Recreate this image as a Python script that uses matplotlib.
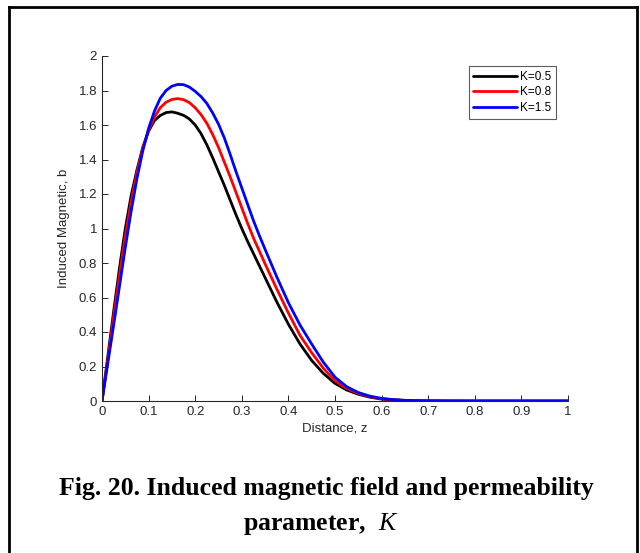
import matplotlib
matplotlib.use("Agg")
import matplotlib.pyplot as plt
from matplotlib.lines import Line2D

plt.rcParams["mathtext.fontset"] = "custom"
plt.rcParams["mathtext.it"] = "Liberation Serif:italic"
plt.rcParams["mathtext.rm"] = "Liberation Serif"

# ---- data ----
z = [0, 0.0125, 0.025, 0.0375, 0.05, 0.0625, 0.075, 0.0875, 0.1, 0.1125,
     0.125, 0.1375, 0.15, 0.1625, 0.175, 0.1875, 0.2, 0.2125, 0.225, 0.2375,
     0.25, 0.2625, 0.275, 0.2875, 0.3, 0.3125, 0.325, 0.3375, 0.35,
     0.375, 0.4, 0.425, 0.45, 0.475, 0.5, 0.525, 0.55, 0.575, 0.6, 0.625,
     0.65, 0.675, 0.7, 0.75, 0.8, 0.9, 1.0]
b_k05 = [0, 0.26, 0.52, 0.77, 1.0, 1.19, 1.34, 1.47, 1.565, 1.625,
         1.655, 1.672, 1.676, 1.668, 1.656, 1.635, 1.60, 1.55, 1.485, 1.41,
         1.33, 1.25, 1.165, 1.08, 1.00, 0.925, 0.855, 0.785, 0.715,
         0.575, 0.445, 0.33, 0.235, 0.16, 0.102, 0.064, 0.039, 0.022, 0.011, 0.006,
         0.003, 0.0015, 0.0007, 0.0001, 0, 0, 0]
b_k08 = [0, 0.24, 0.49, 0.73, 0.955, 1.155, 1.325, 1.465, 1.57, 1.645,
         1.70, 1.732, 1.748, 1.753, 1.747, 1.73, 1.70, 1.66, 1.61, 1.545,
         1.47, 1.385, 1.30, 1.21, 1.12, 1.03, 0.945, 0.87, 0.795,
         0.65, 0.51, 0.38, 0.28, 0.19, 0.117, 0.073, 0.044, 0.025, 0.013, 0.007,
         0.0035, 0.0017, 0.0008, 0.0001, 0, 0, 0]
b_k15 = [0, 0.22, 0.44, 0.665, 0.89, 1.10, 1.29, 1.45, 1.58, 1.68,
         1.755, 1.80, 1.825, 1.835, 1.834, 1.82, 1.795, 1.765, 1.725, 1.67,
         1.605, 1.525, 1.43, 1.33, 1.235, 1.14, 1.046, 0.96, 0.879,
         0.72, 0.57, 0.44, 0.33, 0.225, 0.138, 0.083, 0.049, 0.028, 0.015, 0.008,
         0.004, 0.002, 0.001, 0.0002, 0, 0, 0]
labels = ["K=0.5", "K=0.8", "K=1.5"]
colors = ["black", "red", "blue"]
xticks = [0, 0.1, 0.2, 0.3, 0.4, 0.5, 0.6, 0.7, 0.8, 0.9, 1]
yticks = [0, 0.2, 0.4, 0.6, 0.8, 1, 1.2, 1.4, 1.6, 1.8, 2]

W, H = 640, 553
fig = plt.figure(figsize=(W / 100, H / 100), dpi=100)
ax = fig.add_axes([102 / W, 1 - 401 / H, (568 - 102) / W, (401 - 56) / H])

for ys, lab, c in zip([b_k05, b_k08, b_k15], labels, colors):
    ax.plot(z, ys, color=c, lw=2.0, label=lab, solid_joinstyle="round",
            solid_capstyle="round")

gray = "#262626"
ax.set_xlim(0, 1)
ax.set_ylim(0, 2)
ax.set_xticks(xticks)
ax.set_yticks(yticks)
ax.set_xticklabels([f"{t:g}" for t in xticks])
ax.set_yticklabels([f"{t:g}" for t in yticks])
for s in ["top", "right"]:
    ax.spines[s].set_visible(False)
for s in ["left", "bottom"]:
    ax.spines[s].set_color(gray)
    ax.spines[s].set_linewidth(0.8)
ax.tick_params(direction="in", length=4, width=0.7, colors=gray,
               labelsize=9.5, labelcolor=gray)
for t in ax.get_xticklabels() + ax.get_yticklabels():
    t.set_fontfamily("Liberation Sans")

ax.set_xlabel("Distance, z", fontsize=9.5, color=gray, family="Liberation Sans",
              labelpad=3)
ax.set_ylabel("Induced Magnetic, b", fontsize=9.5, color=gray,
              family="Liberation Sans", labelpad=6)

leg = ax.legend(loc="upper right", bbox_to_anchor=(556 / W, 1 - 66 / H),
                bbox_transform=fig.transFigure, frameon=True,
                fancybox=False, edgecolor="#333333", handlelength=3.7,
                handletextpad=0.25, borderpad=0.4, labelspacing=0.3,
                borderaxespad=0, prop={"family": "Liberation Sans", "size": 8.5})
leg.get_frame().set_linewidth(0.8)

# frame border
fig.add_artist(Line2D([9 / W, 9 / W], [0, 1 - 7 / H], transform=fig.transFigure,
                      color="black", lw=2))
fig.add_artist(Line2D([637 / W, 637 / W], [0, 1 - 7 / H], transform=fig.transFigure,
                      color="black", lw=2))
fig.add_artist(Line2D([9 / W, 637 / W], [1 - 7 / H, 1 - 7 / H],
                      transform=fig.transFigure, color="black", lw=2))

# caption
fig.text(326 / W, 1 - 489 / H, "Fig. 20. Induced magnetic field and permeability",
         ha="center", va="center", fontsize=18.5, fontweight="bold",
         family="Liberation Serif")
fig.text(321 / W, 1 - 524 / H, r"parameter,  $K$", ha="center",
         va="center", fontsize=18.5, fontweight="bold", family="Liberation Serif")

fig.savefig("out.png", dpi=100)
